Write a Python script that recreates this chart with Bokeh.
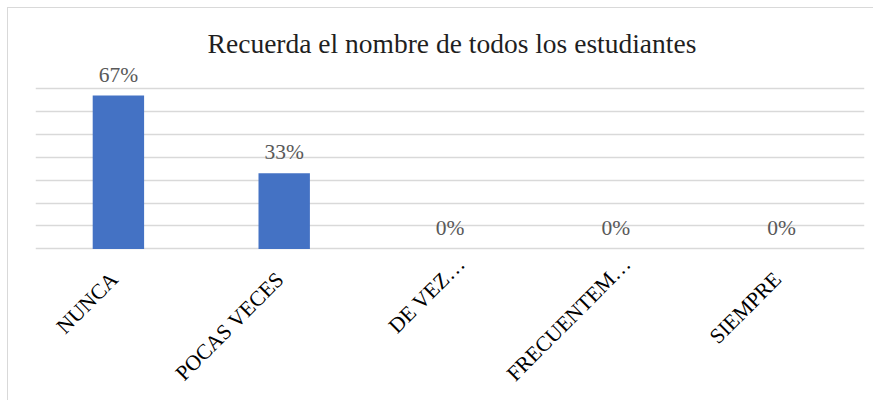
from bokeh.plotting import figure
from bokeh.models import ColumnDataSource, FixedTicker, Title
from bokeh.core.properties import value
from bokeh.embed import file_html
from bokeh.resources import INLINE
import math

categories = ["NUNCA", "POCAS VECES", "DE VEZ…", "FRECUENTEM…", "SIEMPRE"]
values = [0.67, 0.33, 0.0, 0.0, 0.0]
labels = ["67%", "33%", "0%", "0%", "0%"]
y_ticks = [0.0, 0.1, 0.2, 0.3, 0.4, 0.5, 0.6, 0.7]
title_text = "Recuerda el nombre de todos los estudiantes"

SERIF = "Liberation Serif"

body = [c[:-1] if c.endswith("…") else c for c in categories]
suffix = ["…" if c.endswith("…") else "" for c in categories]
zeros = [0.0] * len(categories)

src = ColumnDataSource(dict(cat=categories, val=values, lab=labels,
                            body=body, suffix=suffix, base=zeros))

p = figure(x_range=categories, y_range=(-0.667, 0.832), width=866, height=393,
           output_backend="svg", toolbar_location=None, title=None,
           min_border_left=27, min_border_right=10, min_border_top=50,
           min_border_bottom=0)
p.x_range.range_padding = 0
p.styles = {"border-top": "1px solid #d9d9d9", "border-left": "1px solid #d9d9d9",
            "margin-left": "7px", "margin-top": "7px"}

t = Title(text=title_text, align="center", text_font=SERIF,
          text_font_size="27.5px", text_font_style="normal", text_color="#1f1f1f",
          standoff=0, padding=(4, 0, 0, 0))
p.add_layout(t, "above")

p.vbar(x="cat", top="val", width=0.31, source=src, fill_color="#4472C4",
       line_color=None)
p.text(x="cat", y="val", text="lab", source=src, text_align="center",
       text_baseline="alphabetic", y_offset=-21, text_font=value(SERIF),
       text_font_size="21.5px", text_color="#595959")

# category labels, rotated 45 degrees, ending just below the baseline
p.text(x="cat", y="base", text="body", source=src, angle=math.pi / 4,
       text_align="right", text_baseline="alphabetic", x_offset=-4, y_offset=27,
       text_font=value(SERIF), text_font_size="21.5px", text_color="#000000")
p.text(x="cat", y="base", text="suffix", source=src, angle=math.pi / 4,
       text_align="left", text_baseline="alphabetic", x_offset=-4, y_offset=27,
       text_font=value(SERIF), text_font_size="21.5px", text_color="#000000")

p.outline_line_color = None
p.xgrid.grid_line_color = None
p.ygrid.grid_line_color = "#d9d9d9"
p.ygrid.grid_line_width = 1.3
p.yaxis.ticker = FixedTicker(ticks=y_ticks)
p.ygrid.ticker = FixedTicker(ticks=y_ticks)
p.yaxis.visible = False
p.xaxis.visible = False

open("out.html", "w").write(file_html(p, INLINE))
